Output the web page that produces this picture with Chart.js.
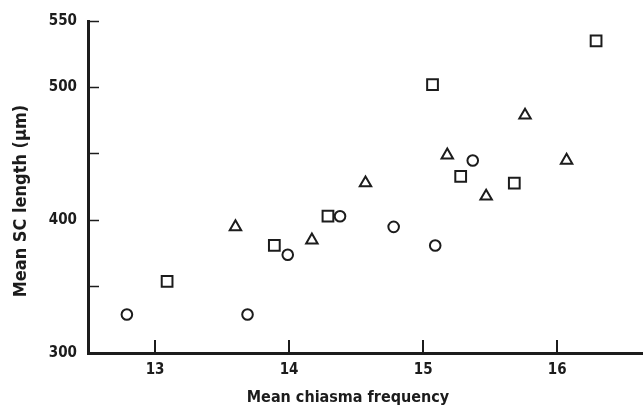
<!DOCTYPE html>
<html>
<head>
<meta charset="utf-8">
<script src="https://cdn.jsdelivr.net/npm/chart.js@4/dist/chart.umd.min.js"></script>
<style>
  html, body { margin: 0; padding: 0; background: #ffffff; }
  #wrap { width: 643px; height: 406px; }
</style>
</head>
<body>
<div id="wrap"><canvas id="c" width="643" height="406"></canvas></div>
<script>
// ---- data ----
const circleX   = [12.79, 13.69, 13.99, 14.38, 14.78, 15.09, 15.37];
const circleY   = [329, 329, 374, 403, 395, 381, 445];
const squareX   = [13.09, 13.89, 14.29, 15.07, 15.28, 15.68, 16.29];
const squareY   = [354, 381, 403, 502, 433, 428, 535];
const triangleX = [13.60, 14.17, 14.57, 15.18, 15.47, 15.76, 16.07];
const triangleY = [395, 385, 428, 449, 418, 479, 445];

const xTickValues = [13, 14, 15, 16];
const xTickLabels = ['13', '14', '15', '16'];
const yTickValues = [300, 350, 400, 450, 500, 550];
const yTickLabels = ['300', '', '400', '', '500', '550'];

const xTitle = 'Mean chiasma frequency';
const yTitle = 'Mean SC length (\u00b5m)';

const toPoints = (xs, ys) => xs.map((x, i) => ({ x: x, y: ys[i] }));

const INK = '#1c1c1c';
const FONT = '"DejaVu Sans Condensed", "DejaVu Sans", sans-serif';

const common = {
  backgroundColor: 'rgba(0,0,0,0)',
  borderColor: INK,
  pointBorderWidth: 2,
  pointHoverBorderWidth: 2,
  showLine: false
};

// short tick marks pointing up into the plot from the x axis, placed by the x scale
const inwardXTicks = {
  id: 'inwardXTicks',
  afterDraw(chart) {
    const sx = chart.scales.x;
    const ctx = chart.ctx;
    const bottom = chart.chartArea.bottom;
    ctx.save();
    ctx.strokeStyle = INK;
    ctx.lineWidth = 2;
    ctx.beginPath();
    xTickValues.forEach(v => {
      const px = Math.round(sx.getPixelForValue(v));
      ctx.moveTo(px, bottom);
      ctx.lineTo(px, bottom - 13);
    });
    ctx.stroke();
    ctx.restore();
  }
};

new Chart(document.getElementById('c'), {
  type: 'scatter',
  data: {
    datasets: [
      Object.assign({ label: 'circle', data: toPoints(circleX, circleY), pointStyle: 'circle', pointRadius: 5.3, pointHoverRadius: 5.3 }, common),
      Object.assign({ label: 'square', data: toPoints(squareX, squareY), pointStyle: 'rect', pointRadius: 7.6, pointHoverRadius: 7.6 }, common),
      Object.assign({ label: 'triangle', data: toPoints(triangleX, triangleY), pointStyle: 'triangle', pointRadius: 6.6, pointHoverRadius: 6.6 }, common)
    ]
  },
  plugins: [inwardXTicks],
  options: {
    responsive: false,
    animation: false,
    devicePixelRatio: 1,
    events: [],
    layout: { autoPadding: false, padding: { top: 21, right: 0, left: 0, bottom: 0 } },
    plugins: { legend: { display: false }, tooltip: { enabled: false } },
    scales: {
      x: {
        type: 'linear',
        min: 12.5,
        max: 16.64,
        afterBuildTicks: (s) => { s.ticks = xTickValues.map(v => ({ value: v })); },
        afterFit: (s) => { s.height = 53; s.paddingLeft = 0; s.paddingRight = 0; },
        border: { display: true, color: INK, width: 3 },
        grid: { display: false },
        ticks: {
          padding: 0,
          color: INK,
          font: { family: FONT, size: 15, weight: 'bold' },
          maxRotation: 0,
          autoSkip: false,
          callback: (v, i) => xTickLabels[i]
        },
        title: {
          display: true,
          text: xTitle + '\u00a0\u00a0\u00a0\u00a0\u00a0\u00a0\u00a0',
          color: INK,
          font: { family: FONT, size: 16, weight: 'bold', lineHeight: 1 },
          padding: { top: 0, bottom: 0 }
        }
      },
      y: {
        type: 'linear',
        min: 300,
        max: 550,
        afterBuildTicks: (s) => { s.ticks = yTickValues.map(v => ({ value: v })); },
        afterFit: (s) => { s.width = 88; s.paddingTop = 0; s.paddingBottom = 0; },
        border: { display: true, color: INK, width: 3 },
        grid: { drawOnChartArea: false, drawTicks: true, tickLength: -11, tickColor: INK, tickWidth: 1.5 },
        ticks: {
          padding: 22,
          color: INK,
          font: { family: FONT, size: 15, weight: 'bold' },
          autoSkip: false,
          callback: (v, i) => yTickLabels[i]
        },
        title: {
          display: true,
          text: yTitle + '\u00a0\u00a0\u00a0\u00a0\u00a0',
          color: INK,
          font: { family: FONT, size: 18, weight: 'bold', lineHeight: 1 },
          padding: { top: 12, bottom: 0 }
        }
      }
    }
  }
});
</script>
</body>
</html>
